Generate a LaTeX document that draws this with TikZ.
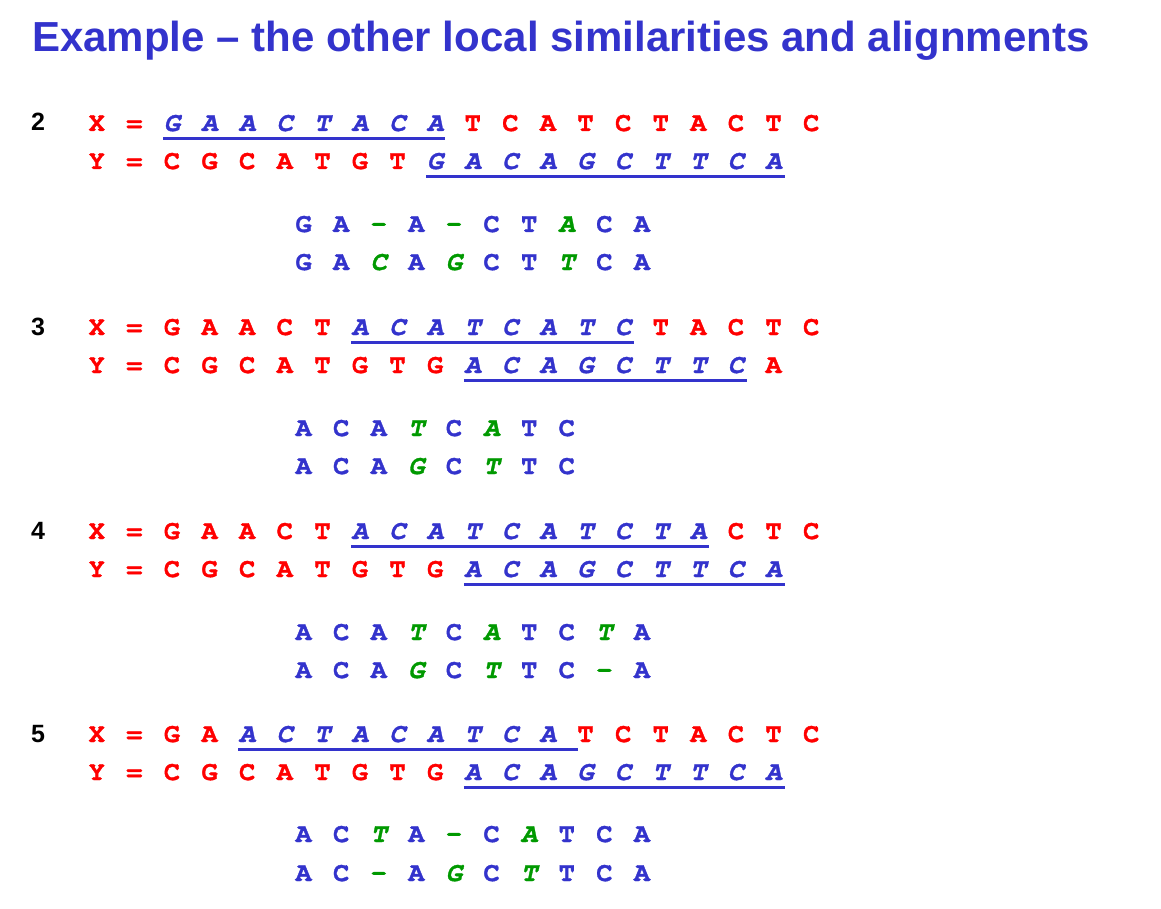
\documentclass[tikz,border=0pt]{standalone}
\usepackage{fontspec}
\setmainfont{Liberation Sans}
\newfontfamily\seqfont[BoldFeatures={FakeBold=1.2},BoldItalicFeatures={FakeBold=1.2}]{TeX Gyre Cursor}
\usetikzlibrary{positioning}

\definecolor{titleblue}{RGB}{51,51,204}
\definecolor{seqred}{RGB}{255,0,0}
\definecolor{hitblue}{RGB}{51,51,204}
\definecolor{mmgreen}{RGB}{0,153,0}

% one row of letters, each letter/style pair on a 37.6px grid
\newcommand{\seqrow}[4]{%
	\foreach \ch/\st [count=\i from 0] in {#4}
		\node[\st] (#1-\i) at ({#2+37.6*\i},#3) {\ch};}

\begin{document}
\begin{tikzpicture}[%
		x=1pt,
		y=-1pt,
		letter/.style={%
			anchor=base,
			inner sep=0pt,
			font=\seqfont\bfseries\fontsize{27}{30}\selectfont
		},
		sr/.style={letter, text=seqred},
		sb/.style={letter, text=hitblue},
		si/.style={letter, text=hitblue, font=\seqfont\bfseries\itshape\fontsize{27}{30}\selectfont},
		sg/.style={letter, text=mmgreen, font=\seqfont\bfseries\itshape\fontsize{27}{30}\selectfont},
		sd/.style={letter, text=mmgreen},
		num/.style={anchor=base, inner sep=0pt, font=\bfseries\fontsize{25}{30}\selectfont},
		uline/.style={draw=hitblue, line width=3pt}
		]
		\useasboundingbox (0,0) rectangle (1161,909);
		\node[anchor=base west, inner sep=0pt, text=titleblue, font=\bfseries\fontsize{42}{50}\selectfont] (title) at (32,52) {Example -- the other local similarities and alignments};
		
		% block 2
		\node[num] (n2) at (38,131) {2};
		\seqrow{x2}{96.8}{131}{X/sr,=/sr,G/si,A/si,A/si,C/si,T/si,A/si,C/si,A/si,T/sr,C/sr,A/sr,T/sr,C/sr,T/sr,A/sr,C/sr,T/sr,C/sr}
		\seqrow{y2}{96.8}{169}{Y/sr,=/sr,C/sr,G/sr,C/sr,A/sr,T/sr,G/sr,T/sr,G/si,A/si,C/si,A/si,G/si,C/si,T/si,T/si,C/si,A/si}
		\seqrow{a2}{303.6}{232}{G/sb,A/sb,–/sd,A/sb,–/sd,C/sb,T/sb,A/sg,C/sb,A/sb}
		\seqrow{b2}{303.6}{270}{G/sb,A/sb,C/sg,A/sb,G/sg,C/sb,T/sb,T/sg,C/sb,A/sb}
		\draw[uline] ([xshift=-9pt,yshift=-7.5pt]x2-2.base) -- ([xshift=10pt,yshift=-7.5pt]x2-9.base);
		\draw[uline] ([xshift=-9pt,yshift=-7.5pt]y2-9.base) -- ([xshift=11pt,yshift=-7.5pt]y2-18.base);
		
		% block 3
		\node[num] (n3) at (38,335) {3};
		\seqrow{x3}{96.8}{335}{X/sr,=/sr,G/sr,A/sr,A/sr,C/sr,T/sr,A/si,C/si,A/si,T/si,C/si,A/si,T/si,C/si,T/sr,A/sr,C/sr,T/sr,C/sr}
		\seqrow{y3}{96.8}{373}{Y/sr,=/sr,C/sr,G/sr,C/sr,A/sr,T/sr,G/sr,T/sr,G/sr,A/si,C/si,A/si,G/si,C/si,T/si,T/si,C/si,A/sr}
		\seqrow{a3}{303.6}{436}{A/sb,C/sb,A/sb,T/sg,C/sb,A/sg,T/sb,C/sb}
		\seqrow{b3}{303.6}{474}{A/sb,C/sb,A/sb,G/sg,C/sb,T/sg,T/sb,C/sb}
		\draw[uline] ([xshift=-9pt,yshift=-7.5pt]x3-7.base) -- ([xshift=11pt,yshift=-7.5pt]x3-14.base);
		\draw[uline] ([xshift=-9pt,yshift=-7.5pt]y3-10.base) -- ([xshift=11pt,yshift=-7.5pt]y3-17.base);
		
		% block 4
		\node[num] (n4) at (38,539) {4};
		\seqrow{x4}{96.8}{539}{X/sr,=/sr,G/sr,A/sr,A/sr,C/sr,T/sr,A/si,C/si,A/si,T/si,C/si,A/si,T/si,C/si,T/si,A/si,C/sr,T/sr,C/sr}
		\seqrow{y4}{96.8}{577}{Y/sr,=/sr,C/sr,G/sr,C/sr,A/sr,T/sr,G/sr,T/sr,G/sr,A/si,C/si,A/si,G/si,C/si,T/si,T/si,C/si,A/si}
		\seqrow{a4}{303.6}{640}{A/sb,C/sb,A/sb,T/sg,C/sb,A/sg,T/sb,C/sb,T/sg,A/sb}
		\seqrow{b4}{303.6}{678}{A/sb,C/sb,A/sb,G/sg,C/sb,T/sg,T/sb,C/sb,–/sd,A/sb}
		\draw[uline] ([xshift=-9pt,yshift=-7.5pt]x4-7.base) -- ([xshift=11pt,yshift=-7.5pt]x4-16.base);
		\draw[uline] ([xshift=-9pt,yshift=-7.5pt]y4-10.base) -- ([xshift=11pt,yshift=-7.5pt]y4-18.base);
		
		% block 5
		\node[num] (n5) at (38,742) {5};
		\seqrow{x5}{96.8}{742}{X/sr,=/sr,G/sr,A/sr,A/si,C/si,T/si,A/si,C/si,A/si,T/si,C/si,A/si,T/sr,C/sr,T/sr,A/sr,C/sr,T/sr,C/sr}
		\seqrow{y5}{96.8}{780}{Y/sr,=/sr,C/sr,G/sr,C/sr,A/sr,T/sr,G/sr,T/sr,G/sr,A/si,C/si,A/si,G/si,C/si,T/si,T/si,C/si,A/si}
		\seqrow{a5}{303.6}{842}{A/sb,C/sb,T/sg,A/sb,–/sd,C/sb,A/sg,T/sb,C/sb,A/sb}
		\seqrow{b5}{303.6}{881}{A/sb,C/sb,–/sd,A/sb,G/sg,C/sb,T/sg,T/sb,C/sb,A/sb}
		\draw[uline] ([xshift=-9pt,yshift=-7.5pt]x5-4.base) -- ([xshift=-8pt,yshift=-7.5pt]x5-13.base);
		\draw[uline] ([xshift=-9pt,yshift=-7.5pt]y5-10.base) -- ([xshift=11pt,yshift=-7.5pt]y5-18.base);
\end{tikzpicture}
\end{document}
